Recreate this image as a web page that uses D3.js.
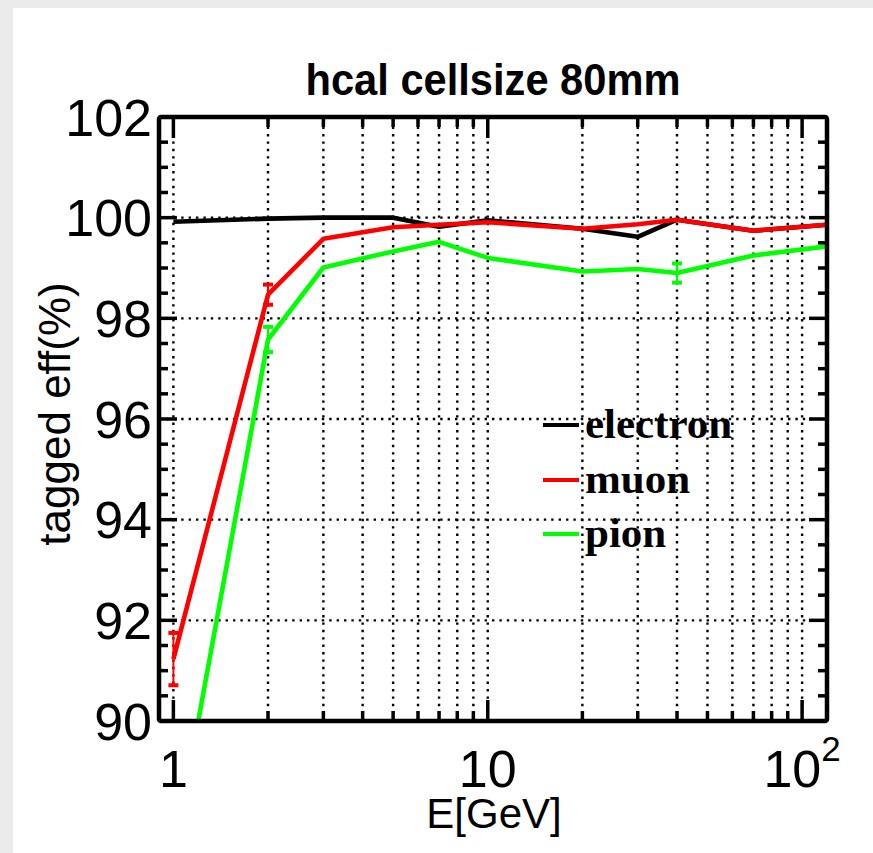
<!DOCTYPE html>
<html>
<head>
  <script src="https://d3js.org/d3.v7.min.js"></script>
  <style>
    html, body { margin: 0; padding: 0; background: #fff; overflow: hidden; }
    svg { display: block; }
  </style>
</head>
<body>
  <svg id="canvas" width="873" height="853"></svg>

  <script>
    // data
    const energies = [1, 2, 3, 5, 7, 10, 20, 30, 40, 70, 120];
    const electron = [99.92, 99.98, 100.0, 100.0, 99.82, 99.95, 99.78, 99.62, 99.96, 99.74, 99.86];
    const muon     = [91.23, 98.47, 99.58, 99.81, 99.86, 99.91, 99.78, 99.87, 99.96, 99.74, 99.86];
    const pion     = [87.3, 97.58, 99.01, 99.33, 99.52, 99.2, 98.93, 98.98, 98.9, 99.25, 99.43];
    const electronErr = [0, 0, 0, 0, 0, 0, 0, 0, 0, 0, 0];
    const muonErr     = [0.52, 0.2, 0, 0, 0, 0, 0, 0, 0, 0, 0];
    const pionErr     = [0, 0.25, 0, 0, 0, 0, 0, 0, 0.19, 0, 0];

    const seriesNames  = ["electron", "muon", "pion"];
    const seriesColors = ["#000000", "#ff0000", "#00ff00"];
    const yTicks = [90, 92, 94, 96, 98, 100, 102];
    const xMajor = [1, 10, 100];

    const svg = d3.select("#canvas");
    const W = 873, H = 853;

    // white page over the grey texture
    svg.append("rect").attr("x", 0).attr("y", 0).attr("width", W).attr("height", H).attr("fill", "#ebebeb");
    svg.append("rect").attr("x", 13).attr("y", 8).attr("width", W - 13).attr("height", H - 8).attr("fill", "#fff");

    const x = d3.scaleLog().domain([0.9, 120]).range([159, 827]);
    const y = d3.scaleLinear().domain([90, 102]).range([721, 117]);
    const [x0, x1] = x.range();
    const [y0, y1] = y.range();

    // minor positions
    const xMinor = [];
    [1, 10].forEach(dec => { for (let k = 2; k <= 9; k++) xMinor.push(k * dec); });
    const yMinor = d3.range(90.5, 102, 0.5).filter(v => Math.abs(v % 2) > 1e-6);

    // dotted grid
    const grid = svg.append("g").attr("stroke", "#000").attr("stroke-width", 2.4).attr("stroke-dasharray", "2.4,5");
    xMajor.concat(xMinor).forEach(v => {
      grid.append("line").attr("x1", x(v)).attr("x2", x(v)).attr("y1", y0).attr("y2", y1);
    });
    yTicks.filter(v => v > 90 && v < 102).forEach(v => {
      grid.append("line").attr("x1", x0).attr("x2", x1).attr("y1", y(v)).attr("y2", y(v));
    });

    // data
    svg.append("clipPath").attr("id", "plotclip")
      .append("rect").attr("x", x0).attr("y", y1).attr("width", x1 - x0).attr("height", y0 - y1);

    const plot = svg.append("g").attr("clip-path", "url(#plotclip)");
    const line = d3.line().x(d => x(d[0])).y(d => y(d[1]));
    const allSeries = [electron, muon, pion];
    const allErr = [electronErr, muonErr, pionErr];

    allSeries.forEach((vals, i) => {
      plot.append("path")
        .datum(energies.map((e, j) => [e, vals[j]]))
        .attr("d", line)
        .attr("fill", "none")
        .attr("stroke", seriesColors[i])
        .attr("stroke-width", 4.6)
        .attr("stroke-linejoin", "round");
    });

    allErr.forEach((errs, i) => {
      energies.forEach((e, j) => {
        if (!errs[j]) return;
        const cx = x(e), hi = y(allSeries[i][j] + errs[j]), lo = y(allSeries[i][j] - errs[j]);
        const g = plot.append("g").attr("stroke", seriesColors[i]);
        g.append("line").attr("x1", cx).attr("x2", cx).attr("y1", hi).attr("y2", lo).attr("stroke-width", 2);
        g.append("line").attr("x1", cx - 5).attr("x2", cx + 5).attr("y1", hi).attr("y2", hi).attr("stroke-width", 4);
        g.append("line").attr("x1", cx - 5).attr("x2", cx + 5).attr("y1", lo).attr("y2", lo).attr("stroke-width", 4);
      });
    });

    // ticks on all four sides
    const ticks = svg.append("g").attr("stroke", "#000").attr("stroke-width", 3.5);
    xMajor.concat(xMinor).forEach(v => {
      const len = xMajor.includes(v) ? 21 : 10;
      ticks.append("line").attr("x1", x(v)).attr("x2", x(v)).attr("y1", y0).attr("y2", y0 - len);
      ticks.append("line").attr("x1", x(v)).attr("x2", x(v)).attr("y1", y1).attr("y2", y1 + len);
    });
    yTicks.concat(yMinor).forEach(v => {
      const len = yTicks.includes(v) ? 18 : 9;
      ticks.append("line").attr("x1", x0).attr("x2", x0 + len).attr("y1", y(v)).attr("y2", y(v));
      ticks.append("line").attr("x1", x1).attr("x2", x1 - len).attr("y1", y(v)).attr("y2", y(v));
    });

    // frame
    svg.append("rect")
      .attr("x", x0).attr("y", y1).attr("width", x1 - x0).attr("height", y0 - y1)
      .attr("fill", "none").attr("stroke", "#000").attr("stroke-width", 4.5).attr("rx", 2);

    const sans = "'Liberation Sans', Arial, sans-serif";

    // y tick labels
    svg.append("g").selectAll("text").data(yTicks).join("text")
      .attr("x", 152).attr("y", d => y(d)).attr("dy", "0.36em")
      .attr("text-anchor", "end")
      .attr("font-family", sans).attr("font-size", 52)
      .text(d => d);

    // x tick labels
    const xl = svg.append("g").attr("font-family", sans).attr("font-size", 52);
    xl.append("text").attr("x", x(1)).attr("y", 787).attr("text-anchor", "middle").text("1");
    xl.append("text").attr("x", x(10)).attr("y", 787).attr("text-anchor", "middle").text("10");
    const t100 = xl.append("text").attr("x", x(100)).attr("y", 787).attr("text-anchor", "middle");
    t100.append("tspan").text("10");
    t100.append("tspan").attr("font-size", 35).attr("dy", -26).text("2");

    // axis titles
    svg.append("text")
      .attr("x", 494).attr("y", 828).attr("text-anchor", "middle")
      .attr("font-family", sans).attr("font-size", 42)
      .text("E[GeV]");
    svg.append("text")
      .attr("transform", "translate(70,414) rotate(-90)")
      .attr("text-anchor", "middle")
      .attr("font-family", sans).attr("font-size", 44)
      .text("tagged eff(%)");

    svg.append("text")
      .attr("x", 493).attr("y", 95).attr("text-anchor", "middle")
      .attr("font-family", sans).attr("font-size", 44).attr("font-weight", "bold")
      .attr("textLength", 375).attr("lengthAdjust", "spacingAndGlyphs")
      .text("hcal cellsize 80mm");

    // legend
    const legendY = [425, 480, 534];
    const legend = svg.append("g");
    seriesNames.forEach((name, i) => {
      legend.append("line")
        .attr("x1", 543).attr("x2", 579).attr("y1", legendY[i]).attr("y2", legendY[i])
        .attr("stroke", seriesColors[i]).attr("stroke-width", 4);
      legend.append("text")
        .attr("x", 585).attr("y", legendY[i] + 13)
        .attr("font-family", "'Liberation Serif', 'Times New Roman', serif")
        .attr("font-weight", "bold").attr("font-size", 43)
        .text(name);
    });
  </script>
</body>
</html>
